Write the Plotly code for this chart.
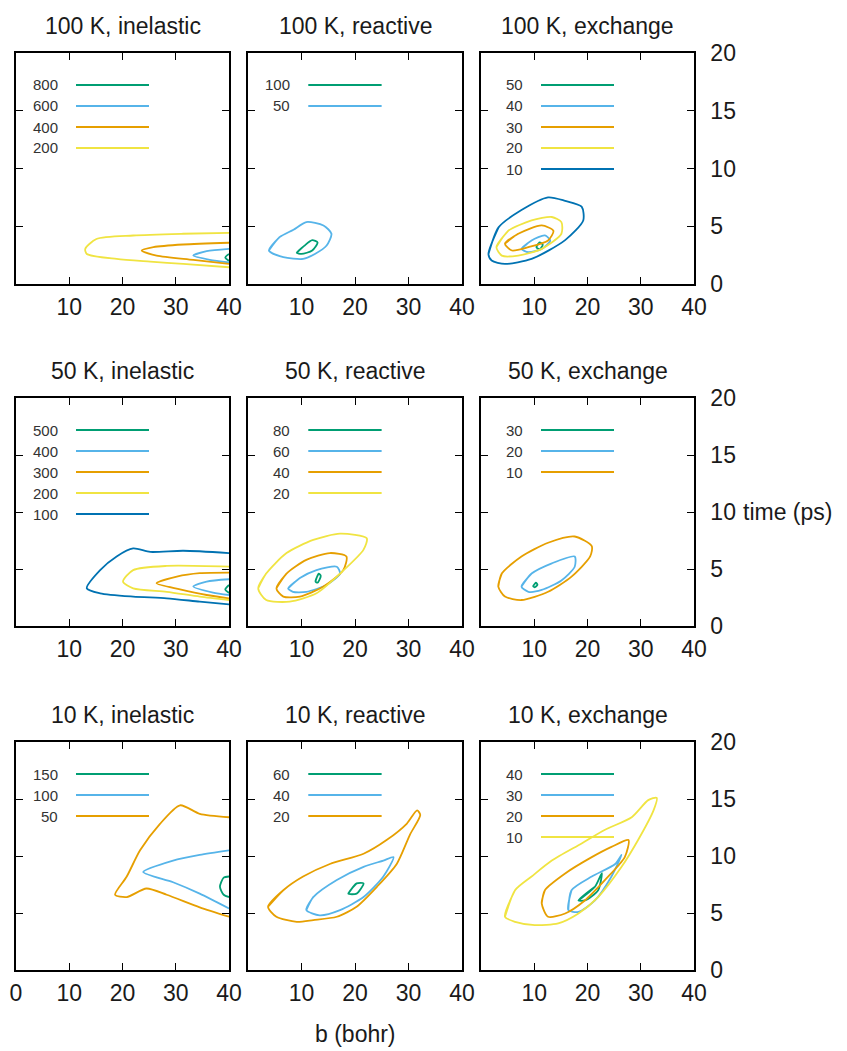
import plotly.graph_objects as go

# ---------------- data ----------------
titles = ["100 K, inelastic", "100 K, reactive", "100 K, exchange",
          "50 K, inelastic", "50 K, reactive", "50 K, exchange",
          "10 K, inelastic", "10 K, reactive", "10 K, exchange"]

x_ticks = [10, 20, 30, 40]
x_ticks_first = [0, 10, 20, 30, 40]
y_ticks = [0, 5, 10, 15, 20]

# each panel: contour level -> (b values [bohr], time values [ps])
in100 = {
    800: ([40, 39.3, 40], [2.6, 2.3, 2.0]),
    600: ([40, 35.8, 33.3, 36.4, 40], [3.04, 2.84, 2.46, 2.09, 1.88]),
    400: ([40, 31.4, 25.8, 23.6, 26.4, 33.3, 40], [3.57, 3.42, 3.19, 2.9, 2.46, 2.09, 1.74]),
    200: ([40, 31.4, 22, 15.1, 13.0, 13.3, 18.9, 25.2, 31.4, 40],
          [4.43, 4.35, 4.2, 3.9, 3.04, 2.6, 2.17, 1.94, 1.74, 1.45]),
}
re100 = {
    100: ([9.1, 10.5, 12.0, 13.0, 12.0, 10.0, 9.1], [2.7, 3.3, 3.8, 3.6, 2.9, 2.6, 2.7]),
    50: ([3.9, 5.9, 8.5, 10.9, 14.1, 15.6, 14.7, 12.5, 10.3, 6.6, 3.9],
         [2.9, 4.06, 4.7, 5.36, 5.07, 4.35, 3.33, 2.6, 2.17, 2.32, 2.9]),
}
ex100 = {
    50: ([10.4, 11.0, 11.6, 11.0, 10.4], [3.2, 3.6, 3.4, 3.0, 3.2]),
    40: ([7.6, 9.5, 12.0, 13.0, 11.4, 8.9, 7.6], [3.04, 3.77, 4.2, 3.77, 3.04, 2.75, 3.04]),
    30: ([4.5, 7.0, 11.4, 13.6, 12.6, 8.9, 5.8, 4.5], [3.5, 4.35, 5.07, 4.6, 3.77, 3.19, 2.9, 3.5]),
    20: ([2.9, 5.1, 9.5, 13.3, 15.1, 15.1, 11.4, 7.0, 3.9, 2.9],
         [3.19, 4.6, 5.5, 5.8, 5.36, 4.35, 3.04, 2.46, 2.46, 3.19]),
    10: ([1.4, 3.3, 7.6, 12.6, 15.8, 18.9, 19.2, 15.8, 9.5, 4.5, 2.0, 1.4],
         [2.6, 4.9, 6.4, 7.5, 7.2, 6.7, 5.5, 3.8, 2.17, 1.74, 2.03, 2.6]),
}
in50 = {
    500: ([40, 39.3, 40], [3.6, 3.2, 2.9]),
    400: ([40, 35.8, 33.3, 37, 40], [4.1, 3.9, 3.46, 2.93, 2.72]),
    300: ([40, 34.5, 30.2, 26.4, 30.8, 35.8, 40], [4.68, 4.63, 4.33, 3.75, 3.22, 2.72, 2.43]),
    200: ([40, 28.3, 22, 20.1, 22, 28.3, 34.5, 40], [5.2, 5.27, 4.9, 3.9, 3.3, 3.0, 2.58, 2.28]),
    100: ([40, 31.4, 25.2, 22, 18.9, 15.8, 13.3, 15.8, 22, 28.3, 34.5, 40],
          [6.4, 6.6, 6.5, 6.8, 6.1, 4.9, 3.3, 2.87, 2.58, 2.43, 2.14, 1.9]),
}
re50 = {
    80: ([12.6, 13.2, 13.6, 13.0, 12.6], [3.9, 4.6, 4.4, 3.8, 3.9]),
    60: ([7.5, 9.7, 12.8, 16.6, 17.2, 14.7, 10.9, 8.4, 7.5], [3.3, 4.2, 4.9, 5.2, 4.6, 3.6, 3.0, 3.0, 3.3]),
    40: ([5.3, 7.2, 10.9, 15.3, 18.4, 17.8, 14.1, 9.7, 6.6, 5.3],
         [3.3, 4.6, 5.8, 6.4, 6.1, 4.9, 3.46, 2.58, 2.58, 3.3]),
    20: ([1.9, 3.4, 7.2, 12.2, 17.2, 22.2, 21.6, 17.2, 12.8, 7.8, 3.4, 1.9],
         [3.3, 4.6, 6.4, 7.55, 8.1, 7.7, 6.7, 4.6, 2.87, 2.14, 2.28, 3.3]),
}
ex50 = {
    30: ([9.8, 10.3, 10.6, 10.1, 9.8], [3.5, 3.8, 3.6, 3.4, 3.5]),
    20: ([7.6, 9.5, 13.3, 17.6, 17.6, 15.1, 11.4, 8.9, 7.6], [3.46, 4.6, 5.5, 6.1, 5.2, 4.0, 3.16, 3.0, 3.46]),
    10: ([3.25, 3.9, 7.6, 12.6, 17.6, 20.8, 20.5, 17.0, 12.6, 7.6, 4.5, 3.25],
         [3.46, 4.6, 6.1, 7.3, 7.85, 7.0, 6.1, 4.33, 3.0, 2.28, 2.58, 3.46]),
}
in10 = {
    150: ([40, 39, 38.3, 39, 40], [8.2, 8.1, 7.3, 6.6, 6.4]),
    100: ([40, 34.5, 29.5, 23.9, 29.5, 34.5, 40], [10.5, 10.1, 9.6, 8.6, 7.7, 6.7, 5.4]),
    50: ([40, 34.5, 30.8, 27, 23.3, 20.8, 18.6, 20.8, 24.5, 28.3, 34.5, 40],
         [13.4, 13.7, 14.45, 12.8, 10.5, 8.2, 6.6, 6.4, 7.15, 6.6, 5.5, 4.67]),
}
re10 = {
    60: ([18.75, 20.3, 21.6, 20.3, 18.75], [6.7, 7.6, 7.6, 6.7, 6.7]),
    40: ([10.9, 12.2, 16.6, 21.6, 25.3, 27.2, 25.3, 21.6, 17.2, 13.4, 10.9],
         [5.26, 6.4, 7.9, 9.05, 9.6, 9.9, 8.2, 6.4, 5.26, 4.8, 5.26]),
    20: ([3.75, 6.6, 10.3, 15.3, 21.6, 25.9, 29.7, 31.6, 32.2, 30.3, 27.8, 24.1, 20.3, 16.6, 12.2, 9.1, 5.3, 3.75],
         [5.55, 7.0, 8.2, 9.3, 10.2, 11.4, 12.85, 14.0, 13.6, 11.9, 9.3, 7.3, 5.55, 4.67, 4.38, 4.23, 4.67, 5.55]),
}
ex10 = {
    40: ([18.3, 21.4, 22.7, 22.0, 19.5, 18.3], [6.1, 7.3, 8.5, 7.0, 6.1, 6.1]),
    30: ([16.4, 17.0, 20.8, 25.2, 26.4, 24.5, 21.4, 18.3, 16.4], [5.26, 7.0, 8.2, 9.3, 10.1, 8.2, 6.1, 5.1, 5.26]),
    20: ([11.4, 12.0, 15.8, 20.8, 24.5, 27.7, 27.0, 23.3, 19.5, 15.8, 12.6, 11.4],
         [5.84, 7.0, 8.47, 9.9, 10.8, 11.4, 9.9, 7.9, 6.1, 4.96, 4.67, 5.84]),
    10: ([4.5, 6.4, 9.5, 13.3, 18.9, 23.3, 28.3, 31.4, 33.0, 32.4, 29.5, 26.4, 22.0, 18.3, 14.5, 10.1, 6.4, 4.5],
         [4.67, 7.0, 8.2, 9.6, 11.1, 12.3, 13.4, 14.9, 15.1, 14.0, 11.4, 9.05, 6.4, 4.96, 4.09, 3.94, 4.23, 4.67]),
}
panels = [in100, re100, ex100, in50, re50, ex50, in10, re10, ex10]

# ---------------- style ----------------
OFF = 8                      # page body margin of the html page
W, H = 847 - OFF, 1051 - OFF
palette = ["#009E73", "#56B4E9", "#E69F00", "#F0E442", "#0072B2"]  # highest level first
col_px = [(16, 229), (248, 462), (481, 694)]
row_px = [(53, 284), (398, 626), (742, 970)]
FONT = "Liberation Sans, Arial, sans-serif"
TXT = "#1a1a1a"


def px(xp):
    return (xp - OFF) / W


def py(yp):
    return 1 - (yp - OFF) / H


fig = go.Figure()
layout = dict(width=W, height=H, autosize=False,
              margin=dict(l=0, r=0, t=0, b=0, pad=0, autoexpand=False),
              plot_bgcolor="white", paper_bgcolor="white", showlegend=False,
              font=dict(family=FONT, color=TXT))
annotations = []
shapes = []

for i, (title, data) in enumerate(zip(titles, panels)):
    r, c = divmod(i, 3)
    n = i + 1
    xa = "x" if n == 1 else f"x{n}"
    ya = "y" if n == 1 else f"y{n}"
    x0p, x1p = col_px[c]
    t0p, b0p = row_px[r]
    layout["xaxis" if n == 1 else f"xaxis{n}"] = dict(
        domain=[px(x0p), px(x1p)], range=[0, 40], anchor=ya, automargin=False,
        tickvals=x_ticks_first if (r == 2 and c == 0) else x_ticks,
        ticks="inside", ticklen=7, tickwidth=1.3, tickcolor="black",
        showline=True, linewidth=1.5, linecolor="black", mirror="allticks",
        showgrid=False, zeroline=False, tickfont=dict(size=23, color=TXT),
        ticklabelstandoff=2, fixedrange=True)
    yax = dict(domain=[py(b0p), py(t0p)], range=[0, 20], anchor=xa, automargin=False,
               ticks="inside", ticklen=7, tickwidth=1.3, tickcolor="black",
               showline=True, linewidth=1.5, linecolor="black", mirror="allticks",
               showgrid=False, zeroline=False, tickfont=dict(size=23, color=TXT),
               fixedrange=True)
    if c == 2:
        yax.update(tickvals=y_ticks, side="right", showticklabels=True, ticklabelstandoff=10)
    else:
        yax.update(tickvals=[5, 10, 15], showticklabels=False)
    layout["yaxis" if n == 1 else f"yaxis{n}"] = yax

    # title
    annotations.append(dict(text=title, xref="paper", yref="paper",
                            x=px((x0p + x1p) / 2), y=py(t0p - 27),
                            xanchor="center", yanchor="middle", showarrow=False,
                            font=dict(size=23, color=TXT)))

    levels = sorted(data.keys(), reverse=True)
    for k, lv in enumerate(levels):
        color = palette[k]
        bvals, tvals = data[lv]
        bplot, tplot = list(bvals), list(tvals)
        if bplot[0] == bplot[-1] and tplot[0] == tplot[-1] and len(bplot) > 3:
            # closed loop: carry the curve one point further so the spline closes smoothly
            bplot.append(bplot[1])
            tplot.append(tplot[1])
        fig.add_trace(go.Scatter(x=bplot, y=tplot, mode="lines", xaxis=xa, yaxis=ya,
                                 line=dict(color=color, width=1.8, shape="spline", smoothing=0.7),
                                 hoverinfo="skip"))
        yk = 1 - (32 + 21 * k) / (b0p - t0p)
        annotations.append(dict(text=str(lv), xref=f"{xa} domain", yref=f"{ya} domain",
                                x=44 / 213, y=yk, xanchor="right", yanchor="middle",
                                showarrow=False, font=dict(size=15, color="#333333")))
        shapes.append(dict(type="line", xref=f"{xa} domain", yref=f"{ya} domain",
                           x0=60 / 213, x1=133 / 213, y0=yk, y1=yk,
                           line=dict(color=color, width=2)))

annotations.append(dict(text="time (ps)", xref="paper", yref="paper",
                        x=px(741), y=py(512), xanchor="left", yanchor="middle",
                        showarrow=False, font=dict(size=23, color=TXT)))
annotations.append(dict(text="b (bohr)", xref="paper", yref="paper",
                        x=px(355), y=py(1034), xanchor="center", yanchor="middle",
                        showarrow=False, font=dict(size=23, color=TXT)))

layout["annotations"] = annotations
layout["shapes"] = shapes
fig.update_layout(**layout)
fig.write_html("out.html", config={"displayModeBar": False})
